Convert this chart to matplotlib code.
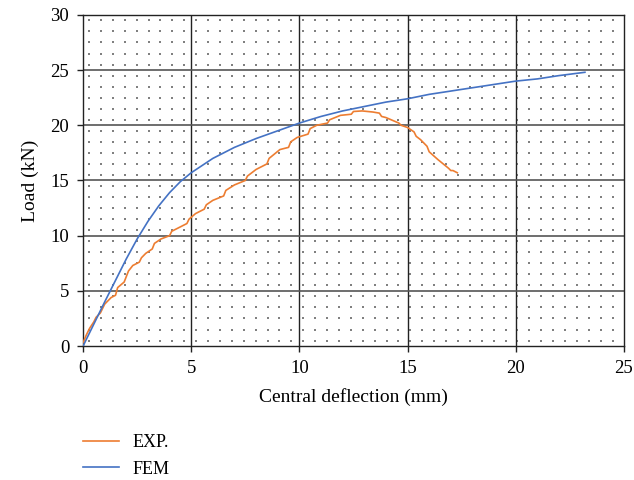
import matplotlib
matplotlib.use("Agg")
import matplotlib.pyplot as plt
import numpy as np

plt.rcParams['font.family'] = ['Liberation Serif', 'DejaVu Serif']

# FEM curve (central deflection mm, load kN)
fem_x = [0, 1, 2, 2.5, 3, 3.5, 4, 4.5, 5, 6, 7, 8, 9, 10, 11, 12, 13, 14,
         15, 16, 17, 18, 19, 20, 21, 22, 23.2]
fem_y = [0, 4.0, 7.9, 9.7, 11.3, 12.7, 13.9, 14.9, 15.7, 17.0, 18.0, 18.8,
         19.5, 20.2, 20.8, 21.3, 21.7, 22.1, 22.4, 22.8, 23.1, 23.4, 23.7,
         24.0, 24.2, 24.5, 24.8]

# Experimental curve (stepped, as read from the test record)
exp_x = [0, 0.15, 0.3, 0.5, 0.6, 0.8, 1.0, 1.3, 1.5, 1.6, 1.9, 2.0, 2.1,
         2.3, 2.6, 2.7, 2.9, 3.2, 3.3, 3.6, 4.0, 4.1, 4.4, 4.8, 4.9, 5.2,
         5.6, 5.7, 6.0, 6.5, 6.6, 7.0, 7.5, 7.6, 8.0, 8.5, 8.6, 9.1, 9.5,
         9.6, 9.9, 10.4, 10.5, 10.8, 11.3, 11.4, 11.9, 12.4, 12.5, 12.9,
         13.4, 13.7, 13.8, 14.0, 14.6, 14.7, 15.0, 15.3, 15.4, 15.6, 15.9,
         16.0, 16.4, 16.9, 17.0, 17.1, 17.3]
exp_y = [0.3, 1.0, 1.6, 2.2, 2.6, 3.0, 3.8, 4.4, 4.6, 5.3, 5.8, 6.3, 6.8,
         7.3, 7.6, 8.0, 8.4, 8.8, 9.3, 9.7, 10.0, 10.4, 10.7, 11.1, 11.5,
         12.0, 12.4, 12.8, 13.2, 13.6, 14.1, 14.6, 15.0, 15.4, 16.0, 16.5,
         17.0, 17.8, 18.0, 18.5, 18.9, 19.2, 19.7, 20.0, 20.2, 20.5, 20.9,
         21.0, 21.25, 21.3, 21.2, 21.1, 20.8, 20.7, 20.2, 20.0, 19.8, 19.4,
         19.0, 18.7, 18.1, 17.6, 16.9, 16.1, 15.9, 15.9, 15.7]

fig = plt.figure(figsize=(6.34, 4.8), dpi=100)
ax = fig.add_axes([0.131, 0.279, 0.853, 0.69])

# dotted background texture
dx = np.arange(0.28, 25, 0.55)
dy = np.arange(0.5, 30, 1.0)
gx, gy = np.meshgrid(dx, dy)
ax.scatter(gx.ravel(), gy.ravel(), s=0.8, c='#808080', marker='s',
           linewidths=0, zorder=1)

for v in range(5, 25, 5):
    ax.axvline(v, color='#222222', lw=1.0, zorder=2)
for h in range(5, 30, 5):
    ax.axhline(h, color='#555555', lw=1.2, zorder=2)

ax.plot(exp_x, exp_y, color='#ed7d31', lw=1.2, label='EXP.', zorder=3)
ax.plot(fem_x, fem_y, color='#4472c4', lw=1.2, label='FEM', zorder=3)

ax.set_xlim(0, 25)
ax.set_ylim(0, 30)
ax.set_xticks(range(0, 26, 5))
ax.set_yticks(range(0, 31, 5))
ax.tick_params(axis='x', labelsize=13.5, length=4, width=1.0, pad=6,
               color='#222222')
ax.tick_params(axis='y', labelsize=13.5, length=4, width=1.0, pad=6,
               color='#222222')
for s in ax.spines.values():
    s.set_color('#222222')
    s.set_linewidth(1.0)

ax.set_xlabel('Central deflection (mm)', fontsize=14, labelpad=8)
ax.set_ylabel('Load (kN)', fontsize=14, labelpad=8)

fig.legend(loc='upper left', bbox_to_anchor=(0.106, 0.13), frameon=False,
           fontsize=13, handlelength=1.95, labelspacing=0.55,
           handletextpad=0.75)

fig.savefig('out.png', dpi=100)
